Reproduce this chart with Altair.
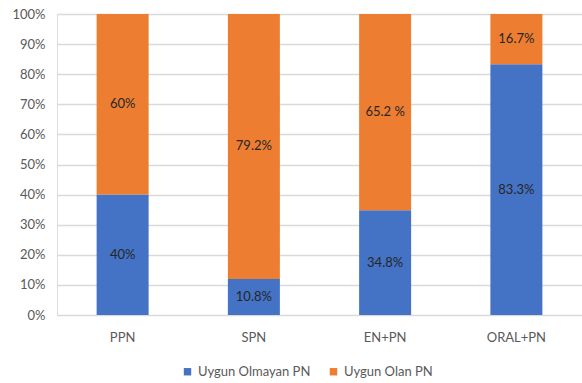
import altair as alt
import pandas as pd

categories = ["PPN", "SPN", "EN+PN", "ORAL+PN"]
series = ["Uygun Olmayan PN", "Uygun Olan PN"]
not_suitable = [40, 10.8, 34.8, 83.3]
suitable = [60, 79.2, 65.2, 16.7]
not_suitable_labels = ["40%", "10.8%", "34.8%", "83.3%"]
suitable_labels = ["60%", "79.2%", "65.2 %", "16.7%"]
colors = ["#4472C4", "#ED7D31"]
y_ticks = [0, 0.1, 0.2, 0.3, 0.4, 0.5, 0.6, 0.7, 0.8, 0.9, 1.0]

rows = []
for i, cat in enumerate(categories):
    rows.append({"cat": cat, "series": series[0], "value": not_suitable[i],
                 "label": not_suitable_labels[i], "ord": 0})
    rows.append({"cat": cat, "series": series[1], "value": suitable[i],
                 "label": suitable_labels[i], "ord": 1})
df = pd.DataFrame(rows)

FONT = "Lato"

x_axis = alt.Axis(labelAngle=0, domain=False, ticks=False, labelPadding=16,
                  labelFontSize=13, labelColor="#595959", labelFont=FONT)
x_scale = alt.Scale(paddingInner=0.6, paddingOuter=0.3)
y_axis = alt.Axis(values=y_ticks, format=".0%", domain=False, ticks=False,
                  labelOverlap=False, labelPadding=12, labelFontSize=13,
                  labelColor="#595959", labelFont=FONT,
                  gridColor="#D9D9D9", gridWidth=1.5)
y_scale = alt.Scale(domain=[0, 1], nice=False)

bars = alt.Chart(df).mark_bar(size=52).encode(
    x=alt.X("cat:N", sort=categories, title=None, scale=x_scale, axis=x_axis),
    y=alt.Y("value:Q", stack="normalize", title=None, scale=y_scale, axis=y_axis),
    color=alt.Color("series:N", sort=series,
                    scale=alt.Scale(domain=series, range=colors),
                    legend=alt.Legend(title=None, orient="none", direction="horizontal",
                                      legendX=124, legendY=351, symbolType="square",
                                      symbolSize=55, symbolStrokeWidth=0,
                                      labelFontSize=13, labelColor="#595959",
                                      labelFont=FONT, columnPadding=16, labelOffset=4)),
    order=alt.Order("ord:Q"),
)

# segment labels sit at the middle of each normalized segment
labels = alt.Chart(df).transform_joinaggregate(
    total="sum(value)", groupby=["cat"]
).transform_calculate(
    share="datum.value / datum.total"
).transform_window(
    cum="sum(share)", groupby=["cat"], sort=[alt.SortField("ord")]
).transform_calculate(
    mid="datum.cum - datum.share / 2"
).mark_text(fontSize=13, font=FONT, color="#262626").encode(
    x=alt.X("cat:N", sort=categories, title=None, scale=x_scale, axis=x_axis),
    y=alt.Y("mid:Q", title=None, scale=y_scale, axis=y_axis),
    text="label:N",
)

chart = alt.layer(bars, labels).properties(
    width=525, height=301,
    autosize=alt.AutoSizeParams(type="none"),
    padding={"left": 57, "top": 14, "right": 0, "bottom": 68},
).configure_view(stroke=None).configure(background="white")

chart.save("out.html", embed_options={"renderer": "svg", "actions": False})
